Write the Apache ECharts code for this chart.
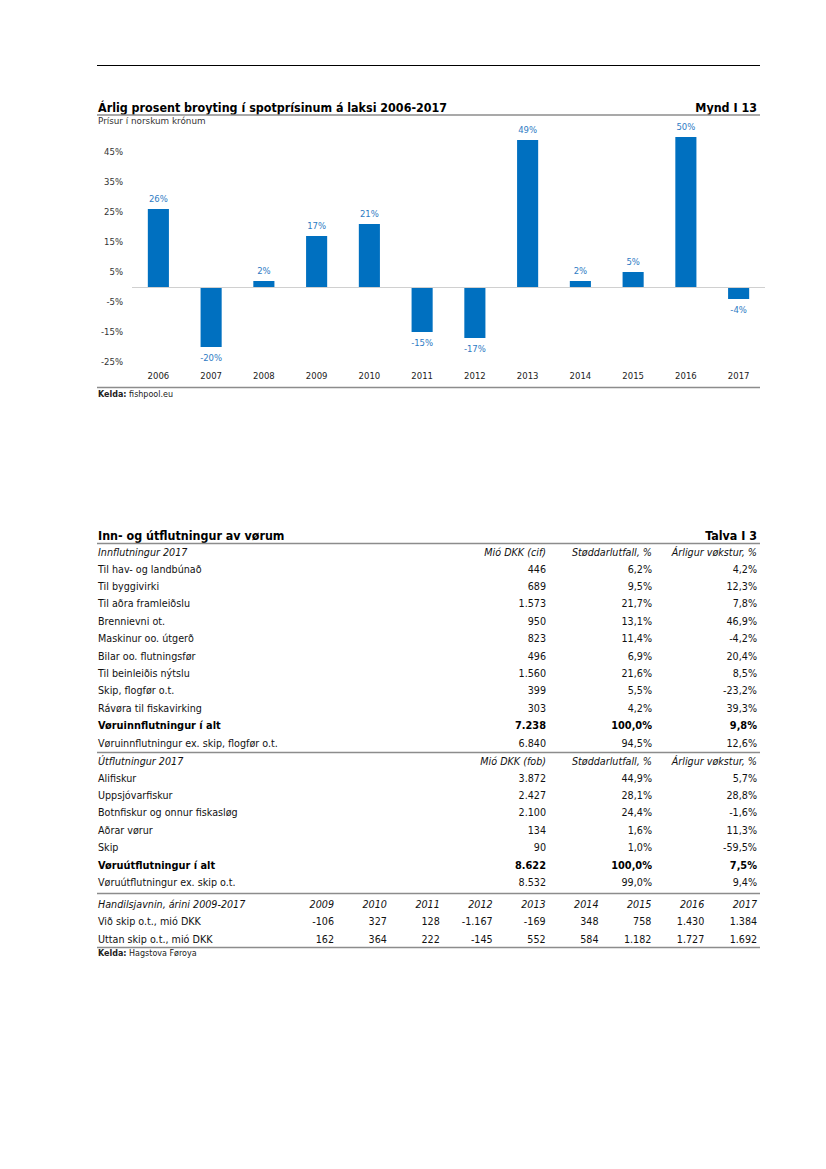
<!DOCTYPE html>
<html><head><meta charset="utf-8">
<script src="https://cdn.jsdelivr.net/npm/echarts@6/dist/echarts.min.js"></script>
<style>html,body{margin:0;padding:0;background:#fff}#c{width:826px;height:1169px}</style>
</head><body><div id="c"></div>
<script>
// ---- Chart data ----
const years = ['2006','2007','2008','2009','2010','2011','2012','2013','2014','2015','2016','2017'];
const changePct = [26, -20, 2, 17, 21, -15, -17, 49, 2, 5, 50, -4];
const yTickLabels = [-25, -15, -5, 5, 15, 25, 35, 45];

// ---- Table data ----
const importLabels = ['Til hav- og landbúnað','Til byggivirki','Til aðra framleiðslu','Brennievni ot.','Maskinur oo. útgerð','Bilar oo. flutningsfør','Til beinleiðis nýtslu','Skip, flogfør o.t.','Rávøra til fiskavirking'];
const importMio = [446, 689, 1573, 950, 823, 496, 1560, 399, 303];
const importShare = [6.2, 9.5, 21.7, 13.1, 11.4, 6.9, 21.6, 5.5, 4.2];
const importGrowth = [4.2, 12.3, 7.8, 46.9, -4.2, 20.4, 8.5, -23.2, 39.3];
const importTotal = ['Vøruinnflutningur í alt', 7238, 100.0, 9.8];
const importEx = ['Vøruinnflutningur ex. skip, flogfør o.t.', 6840, 94.5, 12.6];

const exportLabels = ['Alifiskur','Uppsjóvarfiskur','Botnfiskur og onnur fiskasløg','Aðrar vørur','Skip'];
const exportMio = [3872, 2427, 2100, 134, 90];
const exportShare = [44.9, 28.1, 24.4, 1.6, 1.0];
const exportGrowth = [5.7, 28.8, -1.6, 11.3, -59.5];
const exportTotal = ['Vøruútflutningur í alt', 8622, 100.0, 7.5];
const exportEx = ['Vøruútflutningur ex. skip o.t.', 8532, 99.0, 9.4];

const balanceYears = ['2009','2010','2011','2012','2013','2014','2015','2016','2017'];
const balanceWithShips = [-106, 327, 128, -1167, -169, 348, 758, 1430, 1384];
const balanceWithoutShips = [162, 364, 222, -145, 552, 584, 1182, 1727, 1692];

// ---- helpers ----
const FONT = 'DejaVu Sans, Verdana, sans-serif';
const HFONT = 'DejaVu Sans Condensed, DejaVu Sans, sans-serif';
const BS = 9.6; // body size
function fmtInt(v){const s=Math.abs(v).toString().replace(/\B(?=(\d{3})+(?!\d))/g,'.');return (v<0?'-':'')+s;}
function fmtPct(v){return v.toFixed(1).replace('.',',')+'%';}
const G = [];
function T(x,y,text,o){o=o||{};G.push({type:'text',silent:true,style:{x:x,y:y,text:text,fill:o.fill||'#111',fontSize:o.size||BS,fontFamily:o.family||FONT,fontWeight:o.bold?'bold':'normal',fontStyle:o.italic?'italic':'normal',align:o.align||'left',verticalAlign:'middle',rich:o.rich}});}
function L(x1,y1,x2,y2,c,w){G.push({type:'line',silent:true,shape:{x1:x1,y1:y1,x2:x2,y2:y2},style:{stroke:c||'#888',lineWidth:w||1}});}

const LX = 98;
// page top rule
L(97,65.5,760,65.5,'#000',1);
// chart heading
T(LX,107,'Árlig prosent broyting í spotprísinum á laksi 2006-2017',{bold:true,size:12.4,family:HFONT,fill:'#000'});
T(757,107,'Mynd I 13',{bold:true,size:12.4,align:'right',family:HFONT,fill:'#000'});
L(97,115,760,115,'#8c8c8c',1.3);
T(LX,121,'Prísur í norskum krónum',{size:8.8,fill:'#333'});
L(97,387.5,760,387.5,'#8c8c8c',1.3);
T(LX,394.5,'{b|Kelda:} fishpool.eu',{size:8,fill:'#222',rich:{b:{fontWeight:'bold',fontSize:8,fontFamily:FONT,fill:'#222'}}});

// table
T(LX,535,'Inn- og útflutningur av vørum',{bold:true,size:12.4,family:HFONT,fill:'#000'});
T(757,535,'Talva I 3',{bold:true,size:12.4,align:'right',family:HFONT,fill:'#000'});
L(97,543.5,760,543.5,'#8c8c8c',1.3);
const C1=546, C2=652, C3=757, RH=17.4;
function header(y,a,b){T(LX,y,a,{italic:true});T(C1,y,b,{italic:true,align:'right'});T(C2,y,'Støddarlutfall, %',{italic:true,align:'right'});T(C3,y,'Árligur vøkstur, %',{italic:true,align:'right'});}
function row(y,lab,m,s,g,bold){const o={bold:bold,size:bold?9.8:BS,fill:bold?'#000':'#111'};T(LX,y,lab,o);T(C1,y,fmtInt(m),Object.assign({align:'right'},o));T(C2,y,fmtPct(s),Object.assign({align:'right'},o));T(C3,y,fmtPct(g),Object.assign({align:'right'},o));}
header(552,'Innflutningur 2017','Mió DKK (cif)');
importLabels.forEach((l,i)=>row(569+i*RH,l,importMio[i],importShare[i],importGrowth[i]));
row(569+9*RH,importTotal[0],importTotal[1],importTotal[2],importTotal[3],true);
row(569+10*RH,importEx[0],importEx[1],importEx[2],importEx[3]);
L(97,752.5,760,752.5,'#8c8c8c',1.3);
header(761,'Útflutningur 2017','Mió DKK (fob)');
exportLabels.forEach((l,i)=>row(778+i*RH,l,exportMio[i],exportShare[i],exportGrowth[i]));
row(778+5*RH,exportTotal[0],exportTotal[1],exportTotal[2],exportTotal[3],true);
row(778+6*RH,exportEx[0],exportEx[1],exportEx[2],exportEx[3]);
L(97,893.5,760,893.5,'#8c8c8c',1.3);
T(LX,904,'Handilsjavnin, árini 2009-2017',{italic:true});
balanceYears.forEach((yv,i)=>T(334+i*52.9,904,yv,{italic:true,align:'right'}));
T(LX,921,'Við skip o.t., mió DKK');
balanceWithShips.forEach((v,i)=>T(334+i*52.9,921,fmtInt(v),{align:'right'}));
T(LX,939,'Uttan skip o.t., mió DKK');
balanceWithoutShips.forEach((v,i)=>T(334+i*52.9,939,fmtInt(v),{align:'right'}));
L(97,947.5,760,947.5,'#8c8c8c',1.3);
T(LX,953.5,'{b|Kelda:} Hagstova Føroya',{size:8,fill:'#222',rich:{b:{fontWeight:'bold',fontSize:8,fontFamily:FONT,fill:'#222'}}});

const chart = echarts.init(document.getElementById('c'), null, {renderer:'svg'});
chart.setOption({
  animation:false,
  textStyle:{fontFamily:FONT},
  grid:{left:132,right:61,top:122,bottom:1169-362,containLabel:false},
  xAxis:{type:'category',data:years,axisLine:{show:false},axisTick:{show:false},
    axisLabel:{color:'#222',fontSize:8.5,margin:9,fontFamily:FONT}},
  yAxis:{type:'value',min:-25,max:55,interval:5,splitLine:{show:false},axisLine:{show:false},axisTick:{show:false},
    axisLabel:{color:'#333',fontSize:8.5,margin:9,fontFamily:FONT,
      formatter:v=>yTickLabels.indexOf(Math.round(v))>=0?Math.round(v)+'%':''}},
  graphic:G,
  series:[{type:'bar',barWidth:'40%',
    data:changePct.map(v=>({value:v,label:{position:v>=0?'top':'bottom'}})),
    itemStyle:{color:'#0070C0'},
    label:{show:true,color:'#2E7BC4',fontSize:8.5,distance:6,fontFamily:FONT,formatter:p=>Math.round(p.value)+'%'},
    markLine:{silent:true,symbol:'none',label:{show:false},lineStyle:{color:'#d0d0d0',width:1,type:'solid'},data:[{yAxis:0}]}
  }]
});
</script></body></html>
